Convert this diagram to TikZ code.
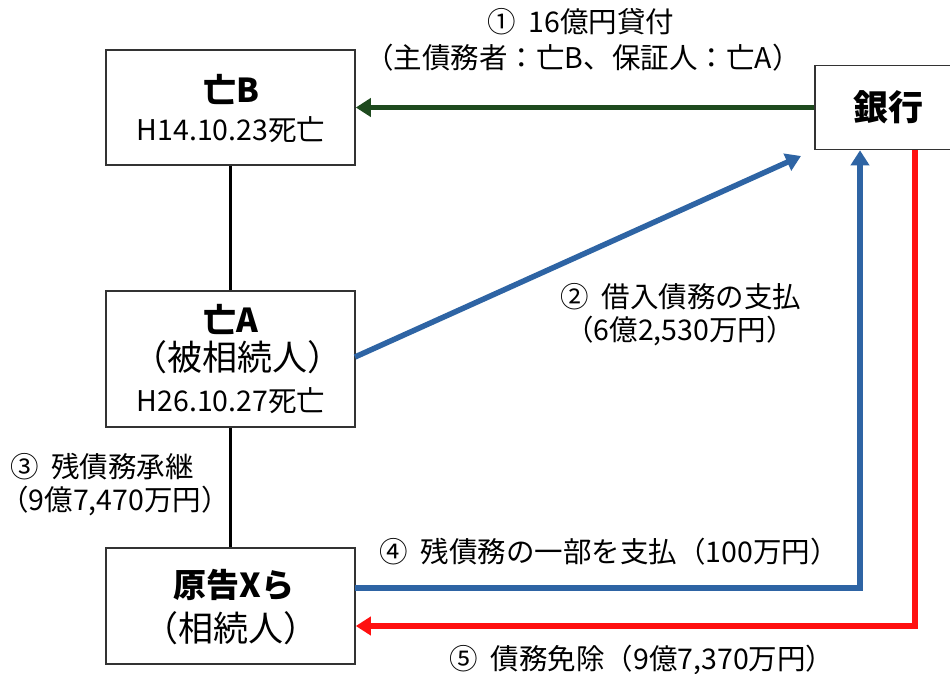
\documentclass[tikz,border=0pt]{standalone}
\usepackage{fontspec}
\setmainfont{Noto Sans CJK JP}
\usetikzlibrary{arrows.meta}
\definecolor{dgreen}{HTML}{1E4A1E}
\definecolor{dblue}{HTML}{2E64A4}
\definecolor{dred}{HTML}{FF1010}
\begin{document}
\begin{tikzpicture}[x=1pt,y=-1pt,
  box/.style={draw=black!80,line width=1.6pt,fill=white,inner sep=0pt},
  lab/.style={font=\fontsize{28.5}{34}\selectfont,inner sep=0pt,align=center},
  big/.style={font=\fontsize{33}{36}\selectfont\bfseries},
  conn/.style={line width=5.5pt},
  tip/.style={-{Triangle[length=15pt,width=18pt]}}]
\useasboundingbox[fill=white] (0,0) rectangle (950,674);
% boxes
\node[box,minimum width=249pt,minimum height=115pt] (B) at (230.5,107.5) {};
\node[box,minimum width=249pt,minimum height=136pt] (A) at (230.5,359) {};
\node[box,minimum width=249pt,minimum height=116pt] (X) at (230.5,606) {};
\node[box,minimum width=140pt,minimum height=84pt] (K) at (885,107.5) {};
% box texts
\node[lab,big] (Bt) at (231,89) {亡B};
\node[lab] (Bd) at (231,130) {H14.10.23死亡};
\node[lab,big] (At) at (231,319) {亡A};
\node[lab,font=\fontsize{35}{38}\selectfont] (Ar) at (237,357) {（被相続人）};
\node[lab] (Ad) at (231,401) {H26.10.27死亡};
\node[lab,big] (Xt) at (234,585) {原告Xら};
\node[lab,font=\fontsize{35}{38}\selectfont] (Xr) at (231,628) {（相続人）};
\node[lab,font=\fontsize{35}{38}\selectfont\bfseries] (Kt) at (888,107) {銀行};
% vertical links
\draw[line width=2.6pt] (B.south) -- (A.north);
\draw[line width=2.6pt] (A.south) -- (X.north);
% arrows
\draw[conn,dgreen,tip] (K.west) -- (B.east);
\coordinate (a2s) at (355,357);
\coordinate (a2e) at (801,156);
\draw[conn,dblue,tip] (a2s) -- (a2e);
\coordinate (c4) at (860,588);
\draw[conn,dblue,tip] (355,588) -- (c4) -- (K.south -| c4);
\coordinate (c5) at (915,626);
\draw[conn,dred,tip] (K.south -| c5) -- (c5) -- (X.east |- c5);
% labels
\node[lab] (l1a) at (581,22) {①\ \ 16億円貸付};
\node[lab] (l1b) at (583,58) {（主債務者：亡B、保証人：亡A）};
\node[lab] (l2a) at (681,297) {②\ \ 借入債務の支払};
\node[lab] (l2b) at (680,331) {（6億2,530万円）};
\node[lab,anchor=west] (l3a) at (10,467) {③\ \ 残債務承継};
\node[lab,anchor=west] (l3b) at (0,501) {（9億7,470万円）};
\node[lab] (l4) at (609,552) {④\ \ 残債務の一部を支払（100万円）};
\node[lab] (l5) at (642,660) {⑤\ \ 債務免除（9億7,370万円）};
\end{tikzpicture}
\end{document}
